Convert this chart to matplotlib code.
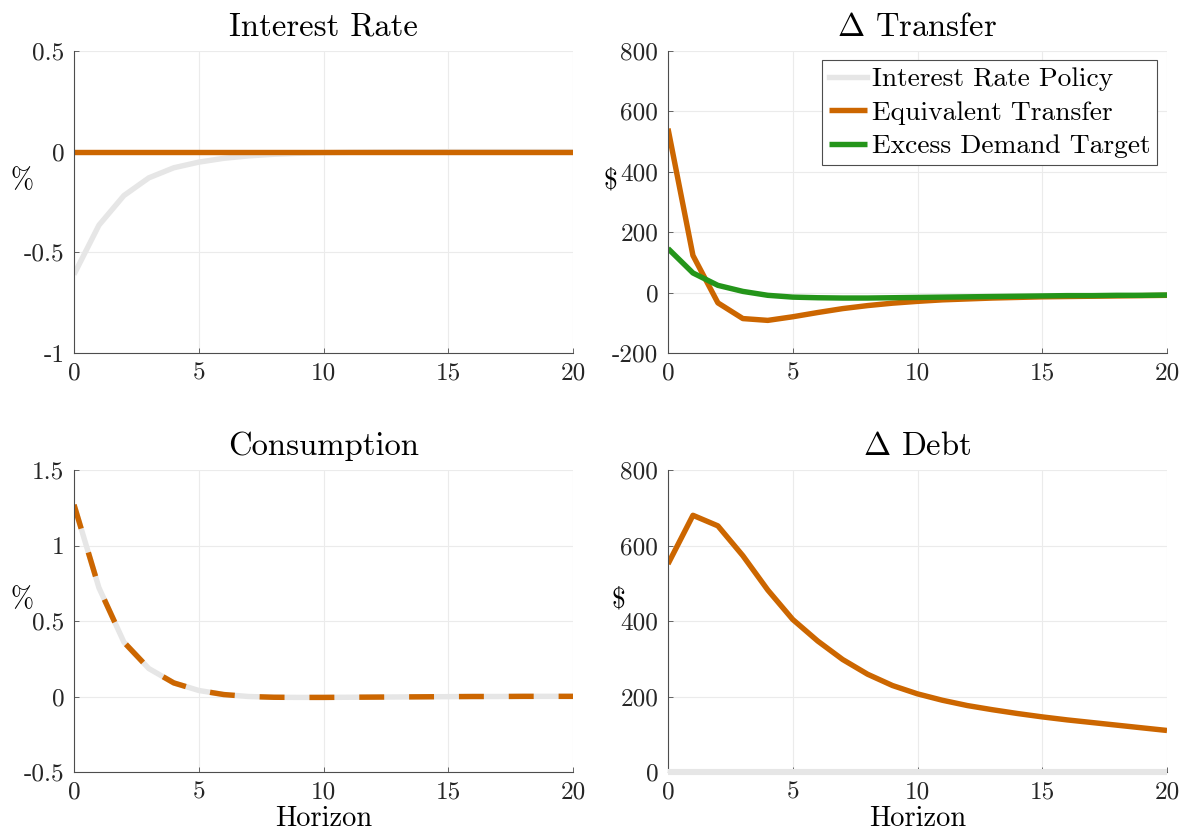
import numpy as np
import matplotlib
matplotlib.use("Agg")
import matplotlib.pyplot as plt

plt.rcParams['font.family'] = 'cmr10'
plt.rcParams['mathtext.fontset'] = 'cm'
plt.rcParams['axes.unicode_minus'] = False
plt.rcParams['axes.formatter.use_mathtext'] = True

horizon = list(range(21))

rate_policy = [-0.61, -0.365, -0.218, -0.13, -0.08, -0.052, -0.033, -0.021, -0.013, -0.008,
               -0.005, -0.003, -0.002, -0.001, -0.001, 0.0, 0.0, 0.0, 0.0, 0.0, 0.0]
rate_transfer = [0.0] * 21

transfer_equiv = [543, 123, -34, -86, -92, -80, -66, -53, -43, -35, -29, -24, -21, -18,
                  -16, -14, -13, -12, -11, -10, -9]
transfer_excess = [146, 65, 24, 4, -9, -15, -17, -18, -18, -17, -16, -15, -14, -13,
                   -12, -11, -10, -10, -9, -9, -8]

cons_policy = [1.27, 0.72, 0.36, 0.185, 0.09, 0.04, 0.013, 0.0, -0.005, -0.006, -0.006,
               -0.005, -0.004, -0.003, -0.002, -0.001, 0.0, 0.0, 0.001, 0.001, 0.001]
cons_transfer = cons_policy

debt_policy = [0.0] * 21
debt_transfer = [551, 680, 652, 573, 482, 404, 347, 298, 259, 229, 207, 190, 176, 165,
                 155, 146, 138, 131, 124, 117, 110]

titles = ["Interest Rate", r"$\Delta$ Transfer", "Consumption", r"$\Delta$ Debt"]
ylabels = ["%", r"\$", "%", r"\$"]
yticks = [[-1, -0.5, 0, 0.5], [-200, 0, 200, 400, 600, 800], [-0.5, 0, 0.5, 1, 1.5],
          [0, 200, 400, 600, 800]]
ytick_labels = [["-1", "-0.5", "0", "0.5"], ["-200", "0", "200", "400", "600", "800"],
                ["-0.5", "0", "0.5", "1", "1.5"], ["0", "200", "400", "600", "800"]]
xticks = [0, 5, 10, 15, 20]
legend_labels = ["Interest Rate Policy", "Equivalent Transfer", "Excess Demand Target"]

GRAY = "#e6e6e6"
ORANGE = "#cc6600"
GREEN = "#24951a"
AXC = "#4d4d4d"

fig = plt.figure(figsize=(11.84, 8.40), dpi=100)
W, H = 1184, 840
boxes = [(74, 51), (668, 51), (74, 470), (668, 470)]
axes = []
for (l, t) in boxes:
    ax = fig.add_axes([l / W, 1 - (t + 302) / H, 499 / W, 302 / H])
    axes.append(ax)

lw = 3.9
# Interest rate
ax = axes[0]
ax.plot(horizon, rate_policy, color=GRAY, lw=lw, solid_capstyle='butt')
ax.plot(horizon, rate_transfer, color=ORANGE, lw=lw, solid_capstyle='butt')
# Transfer
ax = axes[1]
l1, = ax.plot([], [], color=GRAY, lw=lw)
l2, = ax.plot(horizon, transfer_equiv, color=ORANGE, lw=lw, solid_capstyle='butt')
l3, = ax.plot(horizon, transfer_excess, color=GREEN, lw=lw, solid_capstyle='butt')
leg = ax.legend([l1, l2, l3], legend_labels, loc='upper right', fontsize=19.8,
                fancybox=False, framealpha=1, edgecolor=AXC, handlelength=1.38,
                handletextpad=0.18, borderpad=0.25, labelspacing=0.34,
                bbox_to_anchor=(0.98, 0.97), borderaxespad=0)
leg.get_frame().set_linewidth(0.8)
# Consumption
ax = axes[2]
ax.plot(horizon, cons_policy, color=GRAY, lw=lw, solid_capstyle='butt')
ax.plot(horizon, cons_transfer, color=ORANGE, lw=lw, ls=(0, (4.6, 4.6)), dash_capstyle='butt')
# Debt
ax = axes[3]
ax.plot(horizon, debt_policy, color=GRAY, lw=lw + 0.5, solid_capstyle='butt',
        clip_on=False, zorder=3)
ax.plot(horizon, debt_transfer, color=ORANGE, lw=lw, solid_capstyle='butt')

ylab_x = [-0.105, -0.116, -0.105, -0.1]
for i, ax in enumerate(axes):
    ax.set_xlim(0, 20)
    ax.set_ylim(yticks[i][0], yticks[i][-1])
    ax.set_xticks(xticks)
    ax.set_xticklabels([str(v) for v in xticks], fontsize=18.2)
    ax.set_yticks(yticks[i])
    ax.set_yticklabels(ytick_labels[i], fontsize=18.2)
    ax.set_title(titles[i], fontsize=23.5, pad=11)
    ax.set_ylabel(ylabels[i], rotation=0, fontsize=20)
    ax.yaxis.label.set_va('center')
    ax.yaxis.set_label_coords(ylab_x[i], 0.57)
    ax.grid(True, color='#ebebeb', lw=0.8)
    ax.set_axisbelow(True)
    for s in ['top', 'right']:
        ax.spines[s].set_visible(False)
    for s in ['left', 'bottom']:
        ax.spines[s].set_color(AXC)
        ax.spines[s].set_linewidth(0.8)
    ax.tick_params(direction='in', length=3.6, width=0.6, color=AXC,
                   labelcolor='#262626', pad=7)
    if i >= 2:
        ax.set_xlabel("Horizon", fontsize=20.5, labelpad=1)

fig.savefig("out.png", dpi=100, facecolor='white')
